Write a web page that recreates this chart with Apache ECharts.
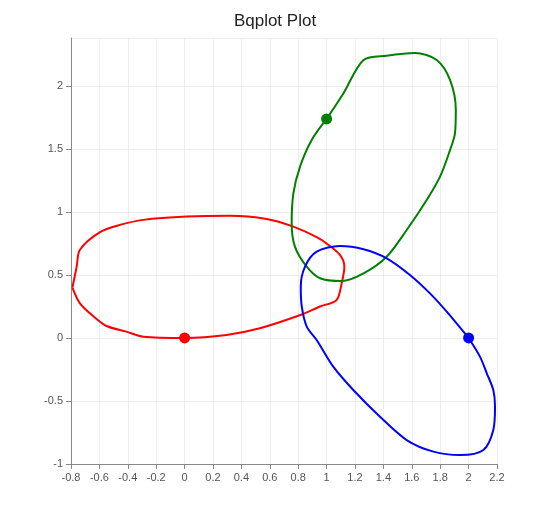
<!DOCTYPE html>
<html><head><meta charset="utf-8">
<script src="https://cdn.jsdelivr.net/npm/echarts@6/dist/echarts.min.js"></script>
<style>html,body{margin:0;padding:0;background:#fff}#c{width:550px;height:516px}</style>
</head><body><div id="c"></div>
<script>
const redLoop = [[-0.79,0.40],[-0.76,0.566],[-0.737,0.70],[-0.596,0.84],[-0.455,0.897],[-0.29,0.937],[0.015,0.963],[0.32,0.97],[0.578,0.944],[0.766,0.883],[0.93,0.80],[1.0,0.75],[1.094,0.659],[1.125,0.566],[1.106,0.434],[1.07,0.30],[0.954,0.25],[0.81,0.18],[0.53,0.077],[0.296,0.024],[0.0,0.0],[-0.29,0.01],[-0.41,0.05],[-0.549,0.095],[-0.64,0.17],[-0.737,0.275],[-0.79,0.40]];
const greenLoop = [[1.0,1.738],[1.118,1.94],[1.26,2.206],[1.423,2.24],[1.623,2.26],[1.775,2.206],[1.869,2.048],[1.91,1.81],[1.904,1.624],[1.869,1.49],[1.799,1.28],[1.705,1.095],[1.564,0.857],[1.423,0.645],[1.26,0.513],[1.106,0.452],[0.954,0.474],[0.86,0.566],[0.777,0.725],[0.754,0.91],[0.766,1.148],[0.813,1.36],[0.895,1.571],[1.0,1.738]];
const blueLoop = [[2.0,0],[1.846,0.209],[1.728,0.354],[1.587,0.5],[1.423,0.632],[1.26,0.704],[1.094,0.73],[0.93,0.685],[0.848,0.566],[0.818,0.407],[0.825,0.25],[0.86,0.09],[0.93,-0.016],[1.047,-0.228],[1.188,-0.413],[1.376,-0.625],[1.564,-0.81],[1.752,-0.902],[1.94,-0.929],[2.104,-0.889],[2.174,-0.73],[2.186,-0.545],[2.174,-0.413],[2.128,-0.28],[2.08,-0.148],[2.0,0]];
const markers = [[0,0],[1,1.738],[2,0]];
const colors = ['red','green','blue'];
const fmt = v => String(Math.round(v*10)/10);
const axisCommon = {
  axisLine:{show:true,onZero:false,lineStyle:{color:'#888'}},
  axisTick:{show:true,lineStyle:{color:'#888'}},
  splitLine:{show:true,lineStyle:{color:'#eee'}}
};
const series = [];
[redLoop,greenLoop,blueLoop].forEach((d,i)=>{
  series.push({type:'line',data:d,smooth:0.3,symbol:'none',lineStyle:{color:colors[i],width:2},silent:true});
  series.push({type:'scatter',data:[markers[i]],symbolSize:11,itemStyle:{color:colors[i],opacity:1}});
});
const chart = echarts.init(document.getElementById('c'));
chart.setOption({
  animation:false,
  title:{text:'Bqplot Plot',left:'center',top:8,textStyle:{fontSize:17,fontWeight:'normal',color:'#222'}},
  grid:{left:71,right:53,top:38,bottom:52},
  xAxis:Object.assign({type:'value',min:-0.8,max:2.2,interval:0.2,axisLabel:{color:'#555',fontSize:11,formatter:fmt}},axisCommon),
  yAxis:Object.assign({type:'value',min:-1,max:2.38,interval:0.5,axisLabel:{color:'#555',fontSize:11,formatter:fmt,showMaxLabel:false}},axisCommon),
  series
});
</script></body></html>
